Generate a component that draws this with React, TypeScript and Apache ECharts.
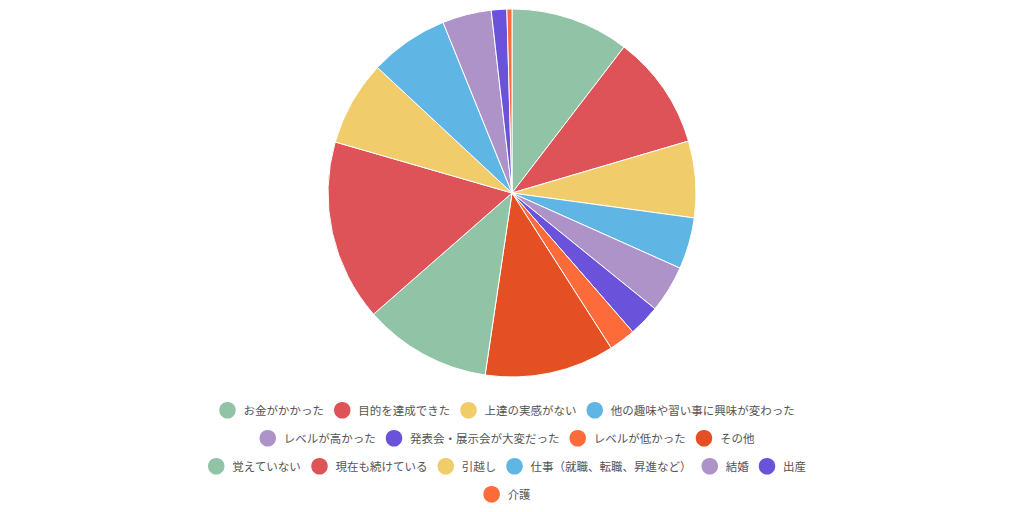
import { useEffect, useRef } from 'react';
import * as echarts from 'echarts';

// Reasons for quitting (in degrees-ish units)
const categories = [
  'お金がかかった',
  '目的を達成できた',
  '上達の実感がない',
  '他の趣味や習い事に興味が変わった',
  'レベルが高かった',
  '発表会・展示会が大変だった',
  'レベルが低かった',
  'その他',
  '覚えていない',
  '現在も続けている',
  '引越し',
  '仕事（就職、転職、昇進など）',
  '結婚',
  '出産',
  '介護',
];

const values = [37.5, 36.1, 24.2, 16.3, 14.9, 10.0, 8.4, 41.0, 40.4, 57.3, 26.9, 25.0, 15.5, 4.9, 1.6];

// legend rows as laid out in the picture
const legendRows = [
  categories.slice(0, 4),
  categories.slice(4, 8),
  categories.slice(8, 14),
  categories.slice(14),
];

const palette = [
  '#91c3a6',
  '#de5357',
  '#f0cc6b',
  '#5fb6e5',
  '#ae93c9',
  '#6b52da',
  '#fe6b3b',
  '#e44f23',
];

export default function App() {
  const ref = useRef<HTMLDivElement | null>(null);

  useEffect(() => {
    if (!ref.current) return;
    const chart = echarts.init(ref.current, undefined, { renderer: 'svg' });
    chart.setOption({
      animation: false,
      color: palette,
      textStyle: { fontFamily: '"Noto Sans CJK JP", "Noto Sans", sans-serif' },
      // one legend per row so each row is centred on its own
      legend: legendRows.map((row, i) => ({
        top: 395 + i * 28,
        left: 'center',
        icon: 'circle',
        itemWidth: 22,
        itemHeight: 18.5,
        itemGap: 8,
        textStyle: { fontSize: 11.5, color: '#555' },
        data: row,
      })),
      series: [
        {
          type: 'pie',
          center: [512, 193],
          radius: 184,
          startAngle: 90,
          clockwise: true,
          label: { show: false },
          labelLine: { show: false },
          itemStyle: { borderColor: '#fff', borderWidth: 1 },
          data: categories.map((name, i) => ({ name, value: values[i] })),
        },
      ],
    });
    return () => chart.dispose();
  }, []);

  // 1012 wide: the legend rows in the picture are centred a little left of the pie
  return (
    <div
      ref={ref}
      style={{ position: 'fixed', left: 0, top: 0, width: 1012, height: 512, background: '#fff' }}
    />
  );
}
